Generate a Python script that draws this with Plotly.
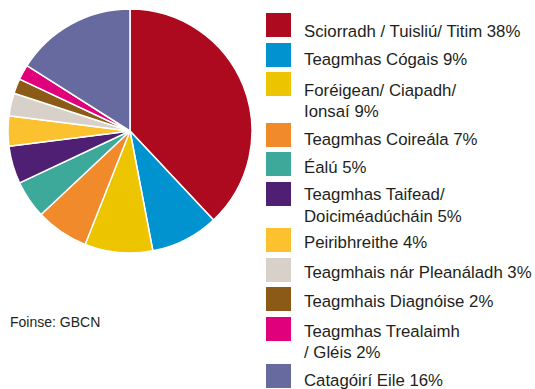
import plotly.graph_objects as go

# Incident categories and their share (%)
labels = [
    "Sciorradh / Tuisliú/ Titim",
    "Teagmhas Cógais",
    "Foréigean/ Ciapadh/ Ionsaí",
    "Teagmhas Coireála",
    "Éalú",
    "Teagmhas Taifead/ Doiciméadúcháin",
    "Peiribhreithe",
    "Teagmhais nár Pleanáladh",
    "Teagmhais Diagnóise",
    "Teagmhas Trealaimh / Gléis",
    "Catagóirí Eile",
]
values = [38, 9, 9, 7, 5, 5, 4, 3, 2, 2, 16]
colors = [
    "#AD0A1F", "#0093D0", "#EDC400", "#F08A2B", "#3DA99A", "#4F1F74",
    "#FBC12F", "#D8D1C9", "#8B5A16", "#E0007B", "#676A9F",
]
# Legend text, wrapped the way it is printed
legend_lines = [
    ["Sciorradh / Tuisliú/ Titim 38%"],
    ["Teagmhas Cógais 9%"],
    ["Foréigean/ Ciapadh/", "Ionsaí 9%"],
    ["Teagmhas Coireála 7%"],
    ["Éalú 5%"],
    ["Teagmhas Taifead/", "Doiciméadúcháin 5%"],
    ["Peiribhreithe 4%"],
    ["Teagmhais nár Pleanáladh 3%"],
    ["Teagmhais Diagnóise 2%"],
    ["Teagmhas Trealaimh", "/ Gléis 2%"],
    ["Catagóirí Eile 16%"],
]
source_text = "Foinse: GBCN"

W, H = 535, 389
FONT = "Liberation Sans"

fig = go.Figure(go.Pie(
    labels=labels,
    values=values,
    sort=False,
    direction="clockwise",
    rotation=0,
    marker=dict(colors=colors, line=dict(color="white", width=1.5)),
    textinfo="none",
    hoverinfo="label+percent",
    domain=dict(x=[8 / W, 252 / W], y=[1 - 253 / H, 1 - 9 / H]),
    showlegend=False,
))

# Legend layout (pixel rows from the top)
square_tops = [13, 43, 72, 123, 152, 182, 228, 258, 287, 317, 364]
text_first = [31, 60, 90, 139, 167, 195, 243, 272, 301, 331, 380]
line_gap = 21
sq_x0, sq_x1, sq_h = 266, 291, 24
text_x = 302

shapes = []
annotations = []
for top, col, y0, lines in zip(square_tops, colors, text_first, legend_lines):
    shapes.append(dict(
        type="rect", xref="paper", yref="paper",
        x0=sq_x0 / W, x1=sq_x1 / W,
        y0=1 - (top + sq_h) / H, y1=1 - top / H,
        fillcolor=col, line=dict(width=0),
    ))
    for i, ln in enumerate(lines):
        annotations.append(dict(
            x=text_x / W, y=1 - (y0 + i * line_gap) / H,
            xref="paper", yref="paper", xanchor="left", yanchor="middle",
            text=ln, showarrow=False,
            font=dict(family=FONT, size=16.8, color="#231F20"),
        ))

annotations.append(dict(
    x=8 / W, y=1 - 322 / H, xref="paper", yref="paper",
    xanchor="left", yanchor="middle", text=source_text, showarrow=False,
    font=dict(family=FONT, size=14, color="#231F20"),
))

fig.update_layout(
    width=W, height=H,
    margin=dict(l=0, r=0, t=0, b=0),
    paper_bgcolor="white", plot_bgcolor="white",
    shapes=shapes, annotations=annotations,
)

fig.write_html("out.html")
